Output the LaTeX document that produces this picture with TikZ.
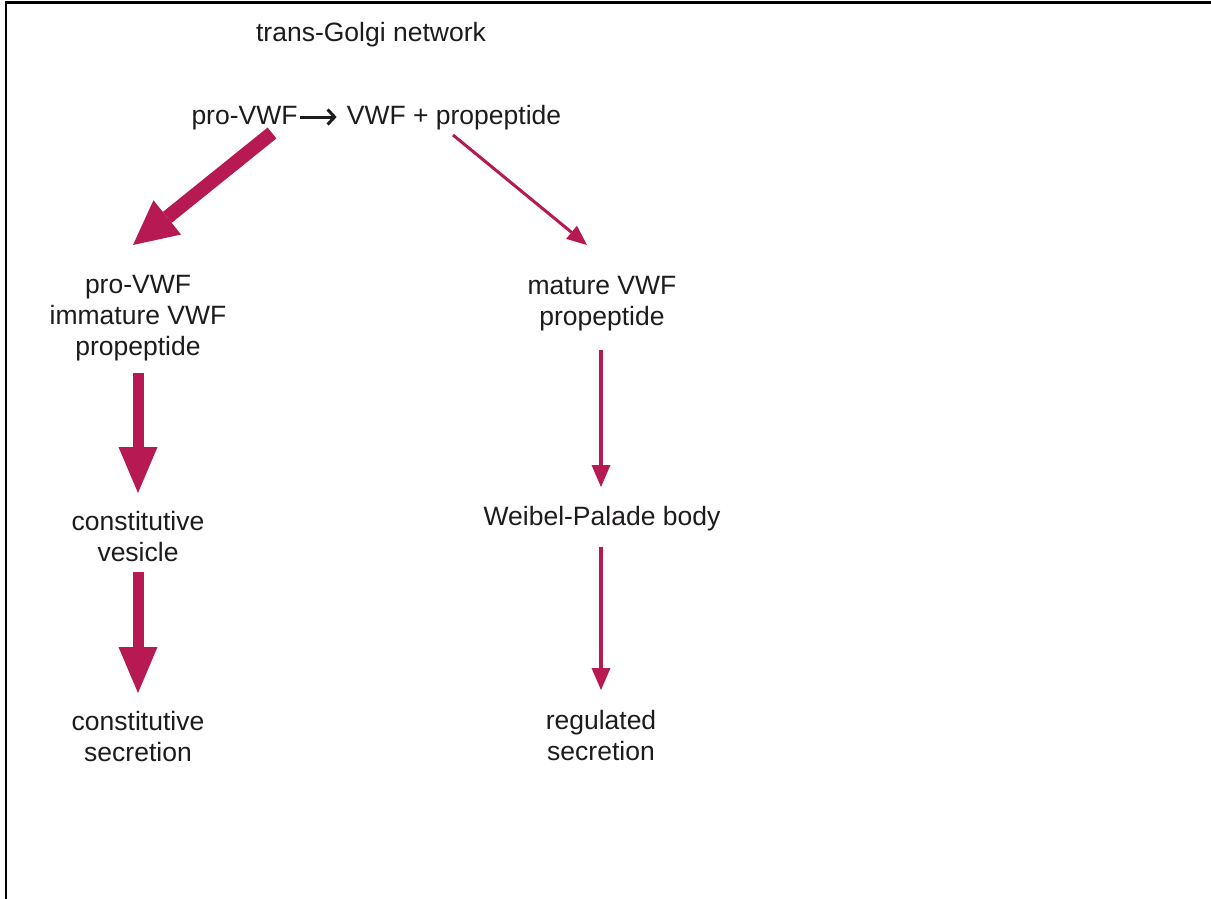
\documentclass[tikz,border=0pt]{standalone}
\usepackage{fontspec}
\setmainfont{Liberation Sans}
\usetikzlibrary{arrows.meta}
\definecolor{vwf}{RGB}{183,26,82}
\definecolor{txt}{RGB}{30,27,28}
\begin{document}
\begin{tikzpicture}[x=1pt,y=-1pt,
  lbl/.style={text=txt,inner sep=0pt,align=center,font=\fontsize{26.5}{31}\selectfont},
  bigarrow/.style={draw=vwf,line width=11pt,-{Triangle[length=46pt,width=39pt,line width=0pt]}},
  diagbig/.style={draw=vwf,line width=14pt,-{Triangle[length=44pt,width=44pt,line width=0pt]}},
  thinarrow/.style={draw=vwf,line width=4pt,-{Triangle[length=22pt,width=19pt,line width=0pt]}},
  diagthin/.style={draw=vwf,line width=3pt,-{Triangle[length=20pt,width=17pt,line width=0pt]}},
  blackarrow/.style={draw=txt,line width=3pt,-{Straight Barb[length=7pt,width=15pt,line width=3pt]}}
]
\useasboundingbox (0,0) rectangle (1211,899);
\fill[white] (0,0) rectangle (1211,899);
\draw[line width=2.2pt,black] (6,899) -- (6,2.5) -- (1211,2.5);

\node[lbl] (tgn) at (371,35) {trans-Golgi network};
\node[lbl] (pro) at (244.5,118) {pro-VWF};
\node[lbl] (prod) at (454,118) {VWF + propeptide};
\node[lbl] (left1) at (138,318.5) {pro-VWF\\immature VWF\\propeptide};
\node[lbl] (right1) at (602,304) {mature VWF\\propeptide};
\node[lbl] (civ) at (138,536.5) {constitutive\\vesicle};
\node[lbl] (wpb) at (602,519) {Weibel-Palade body};
\node[lbl] (lcs) at (138,736.5) {constitutive\\secretion};
\node[lbl] (rs) at (601,735.5) {regulated\\secretion};

\draw[blackarrow] ([shift={(2,-1)}]pro.east) -- ([shift={(-10,-1)}]prod.west);
\draw[diagbig] ([shift={(27.5,15)}]pro.center) -- ([shift={(-5,-73.5)}]left1.center);
\draw[bigarrow] ([shift={(0,54.5)}]left1.center) -- ([shift={(0,-43.5)}]civ.center);
\draw[bigarrow] ([shift={(0,35.5)}]civ.center) -- ([shift={(0,-43.5)}]lcs.center);
\draw[diagthin] ([shift={(-1,17)}]prod.center) -- ([shift={(-15,-59)}]right1.center);
\draw[thinarrow] ([shift={(-1,46)}]right1.center) -- ([shift={(-1,-32)}]wpb.center);
\draw[thinarrow] ([shift={(-1,28)}]wpb.center) -- ([shift={(0,-45.5)}]rs.center);
\end{tikzpicture}
\end{document}
